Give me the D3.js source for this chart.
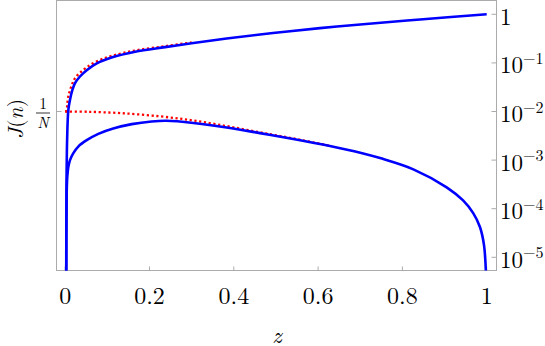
<!DOCTYPE html>
<html>
<head>
<meta charset="utf-8">
<script src="https://cdn.jsdelivr.net/npm/d3@7"></script>
<style>
  body { margin: 0; background: #fff; }
  svg { display: block; }
  text { font-family: "Latin Modern Roman", "CMU Serif", "Liberation Serif", serif; fill: #000; }
  .frame { fill: none; stroke: #ababab; stroke-width: 1; }
  .tick { stroke: #ababab; stroke-width: 1; }
</style>
</head>
<body>
<svg id="chart" width="545" height="346"></svg>
<script>
// values (z, J)
const upperZ = [0.0024, 0.003, 0.0036, 0.0045, 0.0074, 0.0114, 0.0169, 0.023, 0.035, 0.051, 0.075, 0.11, 0.166, 0.237, 0.3, 0.383, 0.493, 0.6045, 0.7, 0.842, 1.0];
const upperJ = [2.5e-6, 3.0e-4, 8.3e-4, 2.5e-3, 1.07e-2, 1.74e-2, 2.75e-2, 3.8e-2, 5.25e-2, 7.08e-2, 9.77e-2, 0.129, 0.170, 0.211, 0.254, 0.318, 0.412, 0.519, 0.617, 0.782, 1.0];

const lowerZ = [0.0024, 0.0035, 0.005, 0.0074, 0.0114, 0.019, 0.031, 0.051, 0.0786, 0.114, 0.158, 0.205, 0.24, 0.304, 0.383, 0.462, 0.541, 0.628, 0.7, 0.747, 0.826, 0.905, 0.944, 0.968, 0.984, 0.9936, 0.9985];
const lowerJ = [2.5e-6, 2.0e-4, 4.6e-4, 7.2e-4, 1.0e-3, 1.38e-3, 1.9e-3, 2.57e-3, 3.47e-3, 4.47e-3, 5.5e-3, 6.24e-3, 6.46e-3, 5.82e-3, 4.68e-3, 3.59e-3, 2.72e-3, 1.95e-3, 1.42e-3, 1.1e-3, 6.46e-4, 2.75e-4, 1.48e-4, 8.1e-5, 4.2e-5, 1.78e-5, 4.0e-6];

const redUpperZ = [0, 0.003, 0.005, 0.0074, 0.0114, 0.0169, 0.023, 0.035, 0.051, 0.075, 0.11, 0.166, 0.237, 0.3];
const redUpperJ = [1.0e-2, 1.03e-2, 1.45e-2, 2.07e-2, 2.74e-2, 3.75e-2, 4.8e-2, 6.25e-2, 8.1e-2, 0.108, 0.139, 0.180, 0.221, 0.264];

const redLowerZ = [0, 0.055, 0.134, 0.225, 0.304, 0.383, 0.462, 0.541, 0.628];
const redLowerJ = [1.0e-2, 9.86e-3, 9.23e-3, 7.94e-3, 6.53e-3, 5.01e-3, 3.72e-3, 2.79e-3, 1.97e-3];

const xTicks = [0, 0.2, 0.4, 0.6, 0.8, 1];
const xTickLabels = ["0", "0.2", "0.4", "0.6", "0.8", "1"];
const yTicks = [1, 1e-1, 1e-2, 1e-3, 1e-4, 1e-5];
const yTickExp = ["", "\u22121", "\u22122", "\u22123", "\u22124", "\u22125"];
const invN = 1e-2;

const svg = d3.select("#chart");

const pLeft = 56.5, pRight = 496.5, pTop = 0.5, pBottom = 270.5;

let x = d3.scaleLinear().domain([0, 1]).range([65.2, 486.7]);
let y = d3.scaleLog().domain([1e-5, 1]).range([257.3, 14.3]);

svg.append("defs").append("clipPath")
    .attr("id", "clip")
    .append("rect")
    .attr("x", pLeft)
    .attr("y", pTop)
    .attr("width", pRight - pLeft)
    .attr("height", pBottom - pTop);

// frame
svg.append("rect").attr("class", "frame")
    .attr("x", pLeft).attr("y", pTop)
    .attr("width", pRight - pLeft).attr("height", pBottom - pTop);

// x ticks (inside, bottom)
svg.append("g").selectAll("line")
    .data(xTicks).enter().append("line")
    .attr("class", "tick")
    .attr("x1", d => x(d)).attr("x2", d => x(d))
    .attr("y1", pBottom).attr("y2", pBottom - 4);

svg.append("g").selectAll("text")
    .data(xTicks).enter().append("text")
    .attr("x", d => x(d))
    .attr("y", 304)
    .attr("text-anchor", "middle")
    .style("font-size", "24px")
    .text((d, i) => xTickLabels[i]);

// right log ticks
svg.append("g").selectAll("line")
    .data(yTicks).enter().append("line")
    .attr("class", "tick")
    .attr("x1", pRight).attr("x2", pRight - 5)
    .attr("y1", d => y(d)).attr("y2", d => y(d));

let yLab = svg.append("g").selectAll("text")
    .data(yTicks).enter().append("text")
    .attr("x", 500)
    .attr("y", d => y(d) + 10.5)
    .style("font-size", "23px");
yLab.append("tspan").text((d, i) => i === 0 ? "1" : "10");
yLab.append("tspan")
    .attr("dy", -9.5)
    .style("font-size", "16px")
    .text((d, i) => yTickExp[i]);

// 1/N tick on the left
svg.append("line").attr("class", "tick")
    .attr("x1", pLeft).attr("x2", pLeft + 5)
    .attr("y1", y(invN)).attr("y2", y(invN));

let frac = svg.append("g").attr("transform", `translate(43,${y(invN)})`);
frac.append("text").attr("x", 0).attr("y", -2.5)
    .attr("text-anchor", "middle").style("font-size", "15.5px").text("1");
frac.append("line").attr("x1", -7).attr("x2", 7).attr("y1", 1.5).attr("y2", 1.5)
    .attr("stroke", "#000").attr("stroke-width", 0.8);
frac.append("text").attr("x", 0).attr("y", 16.5)
    .attr("text-anchor", "middle").style("font-size", "15.5px")
    .style("font-style", "italic").text("N");

// axis labels
svg.append("text")
    .attr("x", 277).attr("y", 343)
    .attr("text-anchor", "middle")
    .style("font-size", "23px").style("font-style", "italic")
    .text("z");

let yl = svg.append("text")
    .attr("transform", "translate(23,119) rotate(-90)")
    .attr("text-anchor", "middle")
    .style("font-size", "21.5px");
yl.append("tspan").style("font-style", "italic").text("J");
yl.append("tspan").text("(");
yl.append("tspan").style("font-style", "italic").text("n");
yl.append("tspan").text(")");

// curves
const line = d3.line()
    .x(d => x(d[0]))
    .y(d => y(d[1]))
    .curve(d3.curveCatmullRom.alpha(0.5));

const plot = svg.append("g").attr("clip-path", "url(#clip)");

function addCurve(zs, js, color, dash) {
    let p = plot.append("path")
        .datum(zs.map((z, i) => [z, js[i]]))
        .attr("d", line)
        .attr("fill", "none")
        .attr("stroke", color)
        .attr("stroke-width", dash ? 2.3 : 2.6)
        .attr("stroke-linejoin", "round");
    if (dash) p.attr("stroke-dasharray", "2.2,2.6");
}

addCurve(redUpperZ, redUpperJ, "#ff0000", true);
addCurve(redLowerZ, redLowerJ, "#ff0000", true);
addCurve(upperZ, upperJ, "#0000ff", false);
addCurve(lowerZ, lowerJ, "#0000ff", false);
</script>
</body>
</html>
